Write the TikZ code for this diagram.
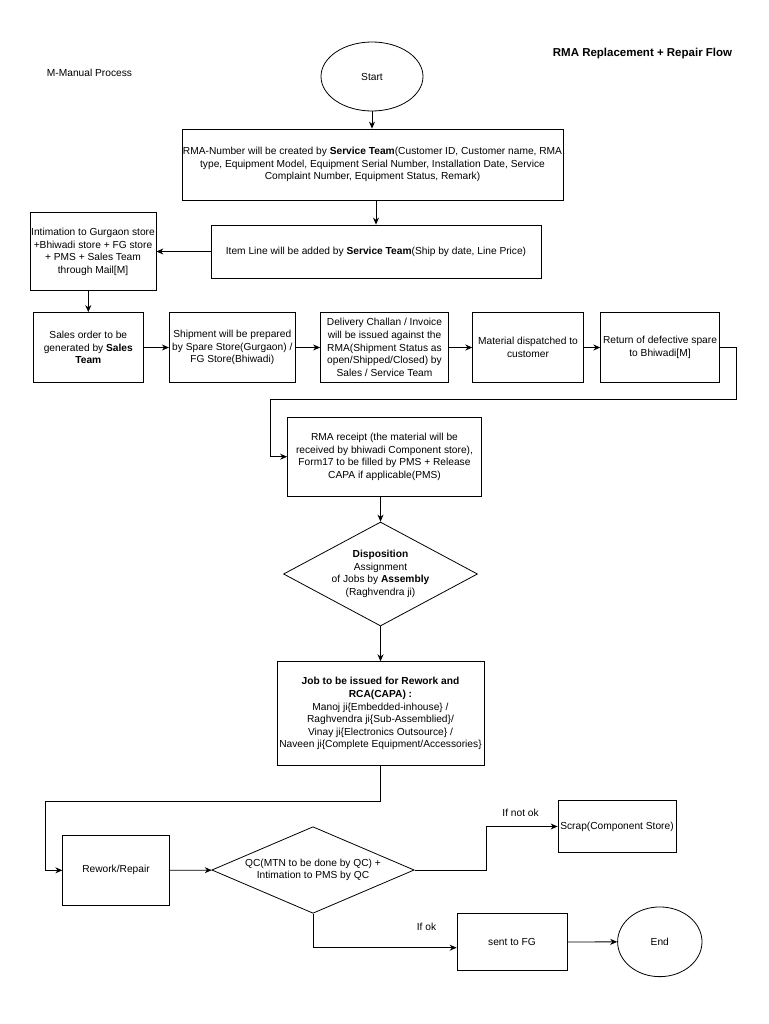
\documentclass[tikz,border=0pt]{standalone}
\usepackage{fontspec}
\setmainfont{Liberation Sans}
\usetikzlibrary{arrows.meta,shapes.geometric}
\newcommand\fs{\fontsize{10.2}{12.6}\selectfont}

\begin{document}
\begin{tikzpicture}[x=1pt,y=-1pt,>={Stealth[length=7pt,width=6pt]},
  box/.style={draw,line width=0.8pt,align=center,inner sep=1pt,font=\fs},
  txt/.style={align=center,inner sep=0pt,font=\fs},
  dia/.style={draw,diamond,line width=0.8pt,inner sep=0pt},
  oval/.style={draw,ellipse,line width=0.8pt,font=\fs},
  flow/.style={->,line width=0.8pt}]
  \useasboundingbox (0,0) rectangle (768,1024);
  % headings
  \node[txt] (manual) at (89.5,73) {M-Manual Process};
  \node[txt,font=\fontsize{11.5}{14}\selectfont\bfseries] (title) at (642.5,54) {RMA Replacement + Repair Flow};
  % top part
  \node[oval,minimum width=102pt,minimum height=69pt] (start) at (372,76.5) {Start};
  \node[box,minimum width=381pt,minimum height=71pt] (rmanum) at (372.5,164.5)
    {RMA-Number will be created by \textbf{Service Team}(Customer ID, Customer name, RMA\\
     type, Equipment Model, Equipment Serial Number, Installation Date, Service\\
     Complaint Number, Equipment Status, Remark)};
  \node[box,minimum width=330pt,minimum height=53pt] (itemline) at (376,251.5)
    {Item Line will be added by \textbf{Service Team}(Ship by date, Line Price)};
  \node[box,minimum width=126pt,minimum height=78pt] (intim) at (93,251.7)
    {Intimation to Gurgaon store\\ +Bhiwadi store + FG store\\ + PMS + Sales Team\\ through Mail[M]};
  % row of boxes
  \node[box,minimum width=110pt,minimum height=70pt] (sales) at (88.3,347.5)
    {Sales order to be\\ generated by \textbf{Sales}\\ \textbf{Team}};
  \node[box,minimum width=126pt,minimum height=70pt] (ship) at (232.3,347.5)
    {Shipment will be prepared\\ by Spare Store(Gurgaon) /\\ FG Store(Bhiwadi)};
  \node[box,minimum width=128pt,minimum height=70pt] (deliv) at (384.5,347.5)
    {Delivery Challan / Invoice\\ will be issued against the\\ RMA(Shipment Status as\\ open/Shipped/Closed) by\\ Sales / Service Team};
  \node[box,minimum width=110.6pt,minimum height=70pt] (dispatch) at (528,347.5)
    {Material dispatched to\\ customer};
  \node[box,minimum width=118.6pt,minimum height=70pt] (ret) at (660,347.5)
    {Return of defective spare\\ to Bhiwadi[M]};
  % receipt and disposition
  \node[box,minimum width=194pt,minimum height=79pt] (receipt) at (384.5,456.7)
    {RMA receipt (the material will be\\ received by bhiwadi Component store),\\ Form17 to be filled by PMS + Release\\ CAPA if applicable(PMS)};
  \node[dia,minimum width=194pt,minimum height=104pt] (dispo) at (380.5,574) {};
  \node[txt] (dispotxt) at (dispo) {\textbf{Disposition}\\ Assignment\\ of Jobs by \textbf{Assembly}\\ (Raghvendra ji)};
  \node[box,minimum width=207pt,minimum height=104pt] (job) at (380.5,713.7)
    {\textbf{Job to be issued for Rework and}\\ \textbf{RCA(CAPA) :}\\ Manoj ji\{Embedded-inhouse\} /\\
     Raghvendra ji\{Sub-Assemblied\}/\\ Vinay ji\{Electronics Outsource\} /\\ Naveen ji\{Complete Equipment/Accessories\}};
  % bottom part
  \node[box,minimum width=106.5pt,minimum height=70.7pt] (rework) at (116,870.3) {Rework/Repair};
  \node[dia,minimum width=202.4pt,minimum height=86.6pt] (qc) at (313,870) {};
  \node[txt] (qctxt) at (qc) {QC(MTN to be done by QC) +\\ Intimation to PMS by QC};
  \node[box,minimum width=118pt,minimum height=51.5pt] (scrap) at (617,826.5) {Scrap(Component Store)};
  \node[box,minimum width=110pt,minimum height=57.4pt] (sentfg) at (512,942) {sent to FG};
  \node[oval,minimum width=84.4pt,minimum height=69.7pt] (end) at (659.8,941.8) {End};
  \node[txt] (notok) at (520.6,812.7) {If not ok};
  \node[txt] (ok) at (426.5,927.3) {If ok};
  % connectors
  \coordinate (r1) at (736,399.3);
  \coordinate (r2) at (270.7,399.3);
  \coordinate (j1) at (45.6,801);
  \coordinate (q1) at (486.8,870);
  \draw[flow] (start.south) -- (start.south |- rmanum.north);
  \draw[flow] (itemline.north |- rmanum.south) -- (itemline.north);
  \draw[flow] (itemline.west) -- (itemline.west -| intim.east);
  \draw[flow] (intim.south -| sales.north) -- (sales.north);
  \draw[flow] (sales) -- (ship);
  \draw[flow] (ship) -- (deliv);
  \draw[flow] (deliv) -- (dispatch);
  \draw[flow] (dispatch) -- (ret);
  \draw[flow] (ret.east) -| (r1) -- (r2) |- (receipt.west);
  \draw[flow] (dispo.north |- receipt.south) -- (dispo.north);
  \draw[flow] (dispo.south) -- (job.north);
  \draw[flow] (job.south) |- (j1) |- (rework.west);
  \draw[flow] (rework) -- (qc);
  \draw[flow] (qc.east) -- (q1) |- (scrap.west);
  \draw[flow] (qc.south) |- ([yshift=-5.7pt]sentfg.west);
  \draw[flow] (sentfg) -- (end);
\end{tikzpicture}
\end{document}
